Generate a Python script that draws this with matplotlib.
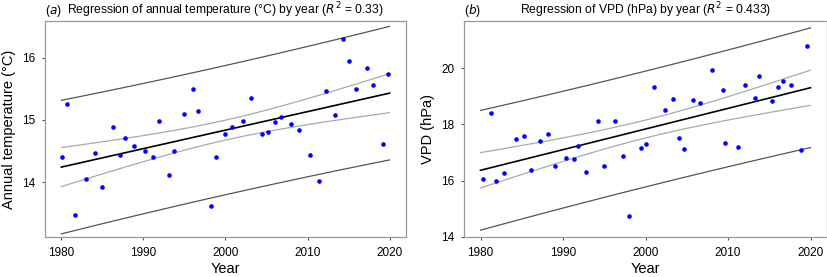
import numpy as np
import matplotlib
matplotlib.use("Agg")
import matplotlib.pyplot as plt

plt.rcParams['font.family'] = ['Liberation Sans', 'DejaVu Sans']

# annual temperature (deg C)
temp_year = [1980.1, 1980.65, 1981.7, 1983.0, 1984.1, 1985.0, 1986.3, 1987.1, 1987.7, 1988.8,
             1990.2, 1991.2, 1991.9, 1993.1, 1993.7, 1995.0, 1996.1, 1996.7, 1998.2, 1998.8,
             1999.9, 2000.8, 2002.1, 2003.1, 2004.4, 2005.2, 2006.0, 2006.8, 2008.0, 2009.0,
             2010.3, 2011.4, 2012.3, 2013.3, 2014.3, 2015.0, 2015.9, 2017.2, 2018.0, 2019.2, 2019.8]
temp_val = [14.40, 15.25, 13.47, 14.05, 14.47, 13.92, 14.89, 14.43, 14.71, 14.58,
            14.50, 14.40, 14.99, 14.11, 14.50, 15.10, 15.50, 15.15, 13.61, 14.41,
            14.78, 14.89, 14.98, 15.35, 14.78, 14.81, 14.96, 15.05, 14.93, 14.84,
            14.43, 14.02, 15.47, 15.08, 16.30, 15.95, 15.50, 15.83, 15.56, 14.62, 15.74]

# VPD (hPa)
vpd_year = [1980.36, 1981.25, 1981.85, 1982.8, 1984.3, 1985.3, 1986.1, 1987.2, 1988.2, 1989.0,
            1990.4, 1991.3, 1991.8, 1992.8, 1994.2, 1995.0, 1996.3, 1997.3, 1998.0, 1999.4,
            2000.1, 2001.0, 2002.4, 2003.3, 2004.1, 2004.7, 2005.8, 2006.6, 2008.1, 2009.4,
            2009.6, 2011.2, 2012.1, 2013.3, 2013.7, 2015.3, 2016.0, 2016.7, 2017.6, 2018.9, 2019.6]
vpd_val = [16.05, 18.41, 15.98, 16.28, 17.48, 17.58, 16.37, 17.40, 17.65, 16.53,
           16.80, 16.78, 17.23, 16.30, 18.12, 16.51, 18.10, 16.88, 14.75, 17.14,
           17.30, 19.34, 18.51, 18.89, 17.50, 17.13, 18.85, 18.76, 19.93, 19.22,
           17.34, 17.19, 19.40, 18.93, 19.70, 18.84, 19.34, 19.53, 19.38, 17.10, 20.78]

T975 = 2.0227  # t quantile, 39 df


def reg_panel(ax, x, y, ylim, yticks, ylabel, tag, title):
    x = np.asarray(x)
    y = np.asarray(y)
    n = len(x)
    slope, icpt = np.polyfit(x, y, 1)
    resid = y - (slope * x + icpt)
    s = np.sqrt(np.sum(resid ** 2) / (n - 2))
    xm = x.mean()
    sxx = np.sum((x - xm) ** 2)
    xs = np.linspace(1980, 2020, 100)
    yf = slope * xs + icpt
    conf = T975 * s * np.sqrt(1 / n + (xs - xm) ** 2 / sxx)
    pred = T975 * s * np.sqrt(1 + 1 / n + (xs - xm) ** 2 / sxx)

    # prediction band, confidence band, fit
    ax.plot(xs, yf + pred, color='#555555', lw=0.9)
    ax.plot(xs, yf - pred, color='#555555', lw=0.9)
    ax.plot(xs, yf + conf, color='#aaaaaa', lw=0.9)
    ax.plot(xs, yf - conf, color='#aaaaaa', lw=0.9)
    ax.plot(xs, yf, color='black', lw=1.2)
    ax.plot(x, y, 'o', color='#0000ff', ms=3.3, mec='none')

    ax.set_xlim(1978, 2022)
    ax.set_ylim(*ylim)
    ax.set_xticks([1980, 1990, 2000, 2010, 2020])
    ax.set_yticks(yticks)
    ax.tick_params(direction='out', length=2.5, width=0.8, color='#555555',
                   labelsize=8.5, pad=4.5)
    for sp in ax.spines.values():
        sp.set_color('#999999')
        sp.set_linewidth(0.9)
    ax.set_xlabel("Year", fontsize=10.5, labelpad=2)
    ax.set_ylabel(ylabel, fontsize=10.5, labelpad=4)
    ax.set_title(tag, loc='left', fontsize=8.7, pad=5)
    ax.set_title(title, fontsize=8.7, pad=5)


fig = plt.figure(figsize=(8.28, 2.77), dpi=100)
ax1 = fig.add_axes([0.0543, 0.144, 0.436, 0.780])
ax2 = fig.add_axes([0.5604, 0.144, 0.4384, 0.780])

reg_panel(ax1, temp_year, temp_val, (13.115, 16.59), [14, 15, 16],
          "Annual temperature (°C)", r"($\it{a}$)",
          r"Regression of annual temperature (°C) by year ($\it{R}^2$ = 0.33)")
reg_panel(ax2, vpd_year, vpd_val, (13.99, 21.67), [14, 16, 18, 20],
          "VPD (hPa)", r"($\it{b}$)",
          r"Regression of VPD (hPa) by year ($\it{R}^2$ = 0.433)")

fig.savefig("out.png", dpi=100)
